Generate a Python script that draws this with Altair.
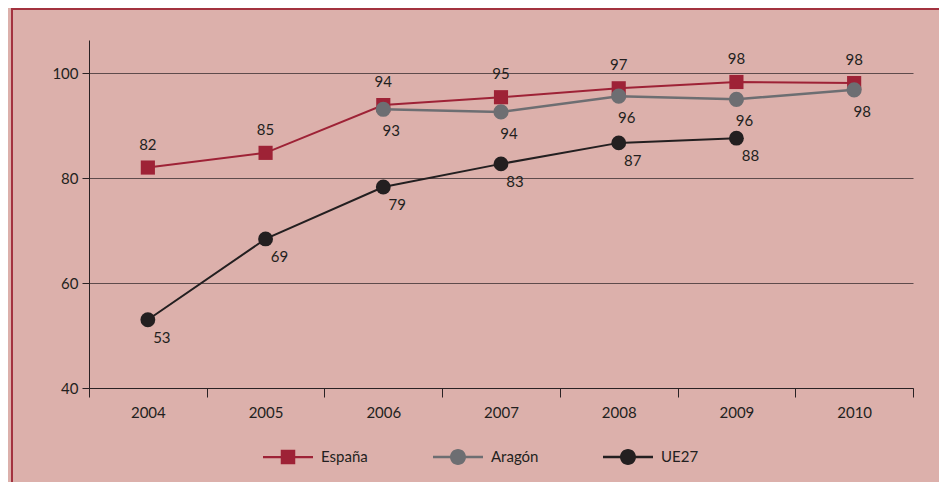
import altair as alt
import pandas as pd

years = ["2004", "2005", "2006", "2007", "2008", "2009", "2010"]

espana_years = years
espana_vals = [82.0, 84.8, 93.9, 95.4, 97.1, 98.3, 98.1]
espana_lbls = ["82", "85", "94", "95", "97", "98", "98"]

aragon_years = ["2006", "2007", "2008", "2009", "2010"]
aragon_vals = [93.1, 92.6, 95.6, 95.0, 96.8]
aragon_lbls = ["93", "94", "96", "96", "98"]

ue_years = ["2004", "2005", "2006", "2007", "2008", "2009"]
ue_vals = [53.0, 68.4, 78.3, 82.7, 86.7, 87.6]
ue_lbls = ["53", "69", "79", "83", "87", "88"]

series = ["España", "Aragón", "UE27"]
colors = ["#9e2236", "#6d6e72", "#231f20"]

BG = "#dcb0ab"
FONT = "Lato"
TXT = "#231f20"

df_es = pd.DataFrame({"year": espana_years, "value": espana_vals, "label": espana_lbls, "serie": "España"})
df_ar = pd.DataFrame({"year": aragon_years, "value": aragon_vals, "label": aragon_lbls, "serie": "Aragón"})
df_ue = pd.DataFrame({"year": ue_years, "value": ue_vals, "label": ue_lbls, "serie": "UE27"})
df_all = pd.concat([df_es, df_ar, df_ue], ignore_index=True)

x_enc = alt.X(
    "year:O",
    scale=alt.Scale(type="band", domain=years, paddingInner=0, paddingOuter=0),
    bandPosition=0.5,
    axis=alt.Axis(
        title=None, labelAngle=0, tickBand="extent", tickSize=9, labelPadding=8,
        domainColor="#2a2224", tickColor="#2a2224", labelFont=FONT, labelFontSize=15,
        labelColor=TXT, grid=False,
    ),
)
y_enc = alt.Y(
    "value:Q",
    scale=alt.Scale(domain=[40, 106.3], nice=False, zero=False),
    axis=alt.Axis(
        title=None, values=[40, 60, 80, 100], grid=True, gridColor="#5e4b4c",
        gridWidth=1, tickSize=7, labelPadding=4, domainColor="#2a2224",
        tickColor="#2a2224", labelFont=FONT, labelFontSize=15, labelColor=TXT,
    ),
)


def series_layers(df, color, shape, size, width, dx, dy):
    base = alt.Chart(df)
    line = base.mark_line(color=color, strokeWidth=width).encode(x=x_enc, y=y_enc)
    pts = base.mark_point(shape=shape, filled=True, color=color, size=size, opacity=1).encode(x=x_enc, y=y_enc)
    txt = base.mark_text(font=FONT, fontSize=15, color=TXT, dx=dx, dy=dy).encode(x=x_enc, y=y_enc, text="label:N")
    return [line, pts, txt]


layers = []
layers += series_layers(df_es, colors[0], "square", 200, 2, 0, -23)
layers += series_layers(df_ar, colors[1], "circle", 230, 2.5, 8, 22)
layers += series_layers(df_ue, colors[2], "circle", 220, 2, 14, 18)

legend_paths = [
    "M-1,-0.045H1V0.045H-1Z M-0.29,-0.29H0.29V0.29H-0.29Z",
    "M-1,-0.05H1V0.05H-1Z M-0.32,0A0.32,0.32 0 1,1 0.32,0A0.32,0.32 0 1,1 -0.32,0Z",
    "M-1,-0.05H1V0.05H-1Z M-0.32,0A0.32,0.32 0 1,1 0.32,0A0.32,0.32 0 1,1 -0.32,0Z",
]
leg = alt.Legend(
    title=None, orient="none", legendX=174, legendY=392, direction="horizontal",
    symbolSize=2500, symbolStrokeWidth=0, labelFont=FONT, labelFontSize=15,
    labelColor=TXT, labelOffset=8, columnPadding=64, gridAlign="all", padding=0,
)
legend_layer = alt.Chart(df_all).mark_point(filled=True, opacity=1).encode(
    x=x_enc,
    y=y_enc,
    color=alt.Color("serie:N", scale=alt.Scale(domain=series, range=colors), legend=leg),
    shape=alt.Shape("serie:N", scale=alt.Scale(domain=series, range=legend_paths), legend=leg),
).transform_filter("false")

border = alt.Chart(pd.DataFrame({"a": [0]})).mark_rect(
    filled=False, stroke="#a3323f", strokeWidth=2
).encode(x=alt.value(-77), x2=alt.value(900), y=alt.value(-31), y2=alt.value(500))

chart = alt.layer(border, *layers, legend_layer).properties(
    width=824, height=348,
    autosize=alt.AutoSizeParams(type="none"),
    padding={"left": 81, "top": 32, "right": 26, "bottom": 94},
    background=BG,
).configure_view(stroke=None)

chart.save("out.html", embed_options={"renderer": "svg", "actions": False})
